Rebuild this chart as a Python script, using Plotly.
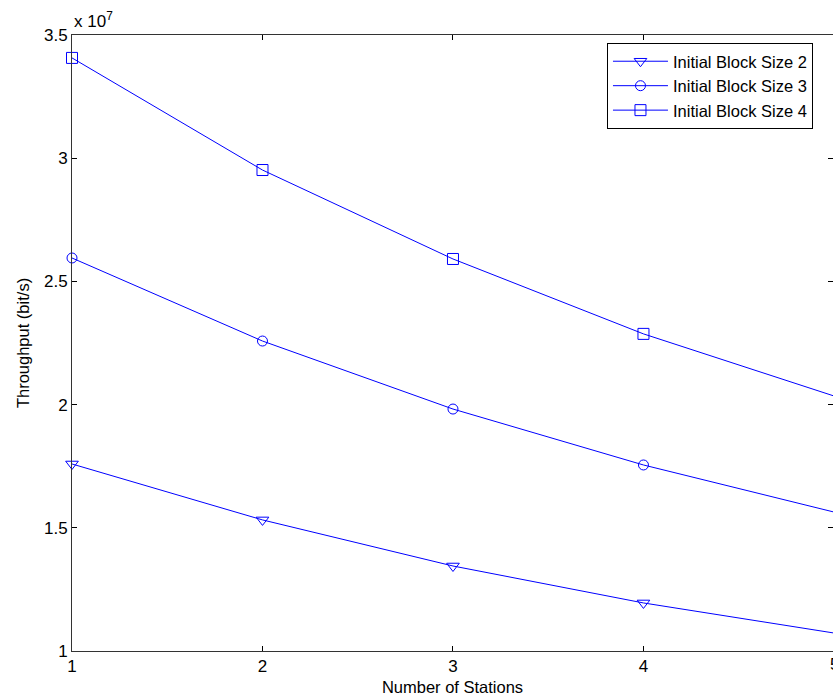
import plotly.graph_objects as go

stations = [1, 2, 3, 4, 5]
block2 = [1.759e7, 1.532e7, 1.345e7, 1.195e7, 1.073e7]
block3 = [2.595e7, 2.258e7, 1.982e7, 1.755e7, 1.564e7]
block4 = [3.407e7, 2.952e7, 2.591e7, 2.287e7, 2.035e7]
names = ["Initial Block Size 2", "Initial Block Size 3", "Initial Block Size 4"]
ytickvals = [1e7, 1.5e7, 2e7, 2.5e7, 3e7, 3.5e7]
yticktext = ["1", "1.5", "2", "2.5", "3", "3.5"]
xtickvals = [1, 2, 3, 4, 5]

BLUE = "#0000ff"
FONT = "Liberation Sans, Arial, sans-serif"

fig = go.Figure()
for ys, nm, sym, sz in [(block2, names[0], "triangle-down-open", 11),
                        (block3, names[1], "circle-open", 10),
                        (block4, names[2], "square-open", 11)]:
    fig.add_trace(go.Scatter(
        x=stations, y=ys, name=nm, mode="lines+markers",
        line=dict(color=BLUE, width=1),
        marker=dict(symbol=sym, size=sz, color=BLUE, line=dict(width=1, color=BLUE)),
        cliponaxis=False,
    ))

fig.update_layout(
    width=833, height=696,
    margin=dict(l=72, r=0, t=35, b=45),
    paper_bgcolor="white", plot_bgcolor="white",
    font=dict(family=FONT, size=17, color="black"),
    showlegend=True,
    legend=dict(x=0.703, y=0.987, xanchor="left", yanchor="top",
                bgcolor="white", bordercolor="black", borderwidth=1,
                font=dict(size=16.5), itemwidth=55, tracegroupgap=0),
    xaxis=dict(range=[1, 4.995], tickvals=xtickvals, ticks="inside", ticklen=5,
               tickcolor="black", showline=True, linecolor="#333333", linewidth=1,
               mirror="ticks", showgrid=False, zeroline=False,
               title=dict(text="Number of Stations", standoff=6,
                          font=dict(size=16.5))),
    yaxis=dict(range=[1e7, 3.5e7], tickvals=ytickvals, ticktext=yticktext,
               ticks="inside", ticklen=5, tickcolor="black", showline=True,
               linecolor="#333333", linewidth=1, mirror="ticks", showgrid=False,
               zeroline=False,
               title=dict(text="Throughput (bit/s)", standoff=10,
                          font=dict(size=16.5))),
    annotations=[
        dict(text="x 10<sup>7</sup>", xref="paper", yref="paper", x=0, y=1,
             xanchor="left", yanchor="bottom", showarrow=False,
             font=dict(size=17), yshift=2),
        dict(text="5", xref="paper", yref="paper", x=1.0015, y=0,
             xanchor="center", yanchor="top", showarrow=False,
             font=dict(size=17), yshift=-2),
    ],
)

fig.write_html("out.html")
